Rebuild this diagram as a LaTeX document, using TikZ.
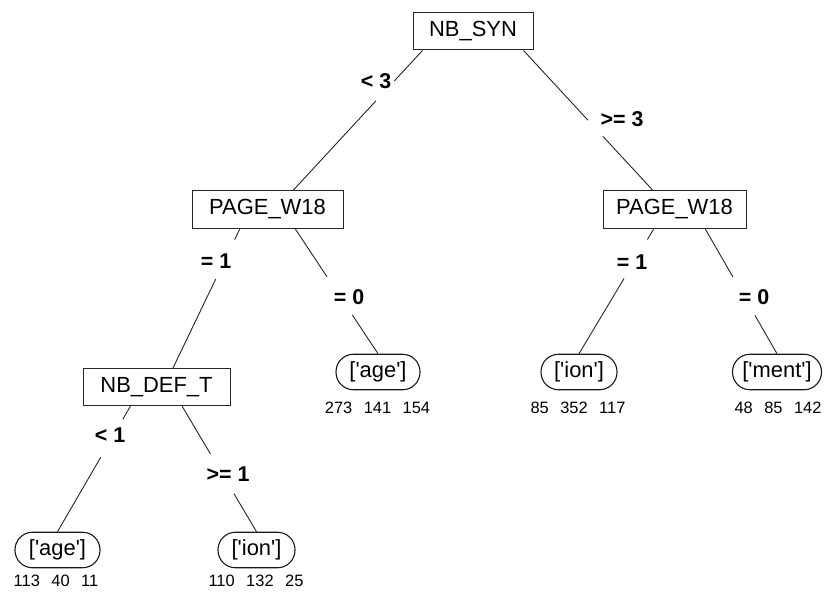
\documentclass[tikz,border=0pt]{standalone}
\usepackage{fontspec}
\setmainfont{Liberation Sans}[Ligatures=TeXOff]
\usetikzlibrary{calc}
\newcommand{\gapedge}[5]{%
  \path #1 -- #2 coordinate[pos=#3](#5a) coordinate[pos=#4](#5b);
  \draw[edge] #1 -- (#5a) (#5b) -- #2;}
\newcommand{\gs}{\hspace{11.5bp}}
\begin{document}
\begin{tikzpicture}[x=1bp,y=-1bp,
  split/.style={draw=black!85, line width=1bp, minimum height=37bp, inner sep=0pt, font=\fontsize{22}{26}\selectfont},
  leaf/.style={draw=black!90, line width=1.1bp, rounded corners=17.5bp, minimum height=35.5bp, inner sep=0pt, font=\fontsize{22}{26}\selectfont},
  cond/.style={font=\fontsize{21.5}{25}\selectfont\bfseries, inner sep=0pt},
  cnt/.style={font=\fontsize{16.5}{19}\selectfont, inner sep=0pt},
  edge/.style={draw=black!85, line width=0.9bp}]
\useasboundingbox (0,0) rectangle (827,593);

% split nodes
\node[split, minimum width=120bp] (nbsyn) at (473,31.5) {NB\_SYN};
\node[split, minimum width=151bp] (pageL) at (267.5,209.5) {PAGE\_W18};
\node[split, minimum width=143bp] (pageR) at (674.5,209.5) {PAGE\_W18};
\node[split, minimum width=147bp] (deft) at (156.5,387) {NB\_DEF\_T};

% leaves
\node[leaf, minimum width=84bp] (ageM) at (378,372) {['age']};
\node[leaf, minimum width=76bp] (ionR) at (579,372) {['ion']};
\node[leaf, minimum width=89bp] (ment) at (777,372) {['ment']};
\node[leaf, minimum width=85bp] (ageL) at (57.5,550) {['age']};
\node[leaf, minimum width=77bp] (ionL) at (256.5,550) {['ion']};

% counts
\node[cnt] (cAgeM) at (377.5,407.5) {273\gs141\gs154};
\node[cnt] (cIonR) at (578,407.5) {85\gs352\gs117};
\node[cnt] (cMent) at (778,407.5) {48\gs85\gs142};
\node[cnt] (cAgeL) at (56,580.5) {113\gs40\gs11};
\node[cnt] (cIonL) at (256,580.5) {110\gs132\gs25};

% edges with gaps
\gapedge{($(nbsyn.south west)+(10,0)$)}{($(pageL.north)+(25.5,0)$)}{0.218}{0.36}{e1}
\gapedge{($(nbsyn.south east)+(-10,0)$)}{($(pageR.north)+(-21.5,0)$)}{0.498}{0.613}{e2}
\gapedge{($(pageL.south)+(-27.5,0)$)}{($(deft.north)+(16.5,0)$)}{0.08}{0.362}{e3}
\gapedge{($(pageL.south)+(27.5,0)$)}{(ageM.north)}{0.386}{0.69}{e4}
\gapedge{($(deft.south)+(-26,0)$)}{(ageL.north)}{0.105}{0.407}{e5}
\gapedge{($(deft.south)+(25.5,0)$)}{(ionL.north)}{0.381}{0.697}{e6}
\gapedge{($(pageR.south)+(-20.5,0)$)}{(ionR.north)}{0.088}{0.4}{e7}
\gapedge{($(pageR.south)+(30.5,0)$)}{(ment.north)}{0.387}{0.694}{e8}

% condition labels
\node[cond] (l1) at (376,81) {< 3};
\node[cond] (l2) at (622,119) {>= 3};
\node[cond] (l3) at (216,261) {= 1};
\node[cond] (l4) at (349,297) {= 0};
\node[cond] (l5) at (110,435) {< 1};
\node[cond] (l6) at (228,474) {>= 1};
\node[cond] (l7) at (632,262) {= 1};
\node[cond] (l8) at (754,297) {= 0};
\end{tikzpicture}
\end{document}
